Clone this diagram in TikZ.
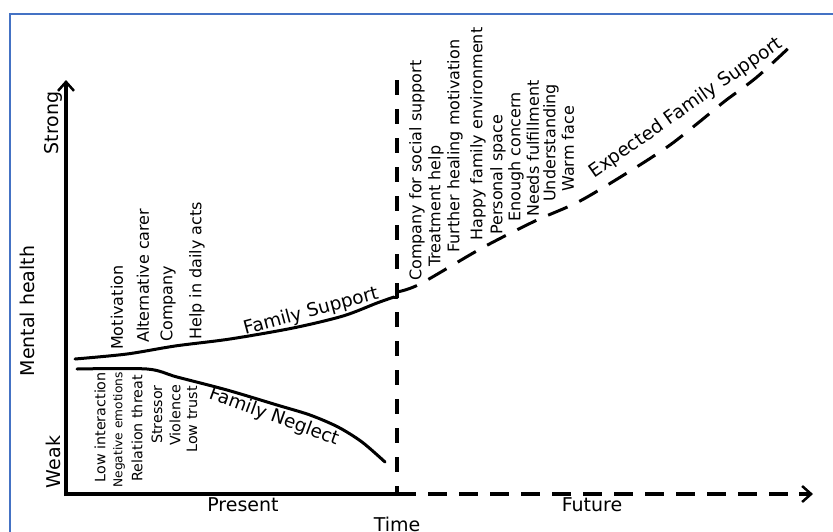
\documentclass[tikz,border=0pt]{standalone}
\usepackage{fontspec}
\setmainfont{DejaVu Sans}
\usetikzlibrary{arrows.meta}
\definecolor{frameblue}{RGB}{68,114,196}
\begin{document}
\begin{tikzpicture}[x=1pt,y=-1pt,
  axisline/.style={line width=4pt},
  curveline/.style={line width=3pt, line cap=round, line join=round},
  tipend/.style={-{Straight Barb[length=9pt,width=16pt,line width=2.5pt]}},
  vdash/.style={line width=4pt, dash pattern=on 15pt off 14pt},
  hdash/.style={line width=4pt, dash pattern=on 19pt off 12pt},
  edash/.style={line width=3pt, dash pattern=on 21pt off 13pt},
  axlabel/.style={inner sep=0pt, font=\fontsize{19}{22}\selectfont},
  curvelabel/.style={inner sep=0pt, font=\fontsize{18.5}{22}\selectfont},
  suplab/.style={inner sep=0pt, rotate=90, anchor=west, font=\fontsize{16}{19}\selectfont},
  neglab/.style={inner sep=0pt, rotate=90, anchor=east, font=\fontsize{14.3}{17}\selectfont},
  futlab/.style={inner sep=0pt, rotate=90, anchor=west, font=\fontsize{16}{19}\selectfont}
]
\useasboundingbox (0,0) rectangle (833,531);
\draw[color=frameblue, line width=2pt] (10,545) -- (10,14) -- (845,14);

% axes
\coordinate (origin) at (64,494);
\coordinate (ybottom) at (66,496);
\coordinate (ytop) at (66,80);
\coordinate (mid) at (397,494);
\coordinate (xend) at (813,494);
\coordinate (vtop) at (397,80);
\draw[axisline, tipend] (ybottom) -- (ytop);
\draw[axisline] (origin) -- (mid);
\draw[hdash] (mid) -- ([xshift=-12pt]xend);
\draw[axisline, tipend] ([xshift=-14pt]xend) -- (xend);
\draw[vdash] (vtop) -- (mid);

% axis labels
\node[axlabel, rotate=90] (strong) at (53,123) {Strong};
\node[axlabel, rotate=90] (weak) at (53,462) {Weak};
\node[axlabel, rotate=90] (mh) at (27,311) {Mental health};
\node[axlabel] (present) at (243,505) {Present};
\node[axlabel] (time) at (397,524) {Time};
\node[axlabel] (future) at (592,505) {Future};

% family support curve
\draw[curveline] plot[smooth, tension=0.5] coordinates {(75,359) (127,354) (175,346) (230,339) (293,328) (343,316) (377,303) (394,297)};
\draw[curveline] (394,297) -- (397,297) -- (397,289);
\coordinate (jstart) at (397,292);
\draw[edash] plot[smooth, tension=0.5] coordinates {(jstart) (420,284) (482,248) (535,221) (580,201) (635,168) (670,145) (698,123) (725,101) (757,77) (795,42)};

% family neglect curve
\draw[curveline] plot[smooth, tension=0.5] coordinates {(77,369) (147,369) (177,377) (227,390) (277,405) (310,415) (338,427) (362,442) (385,462)};

% curve labels
\node[curvelabel, rotate=15] (fs) at (311,312) {Family Support};
\node[curvelabel, rotate=-20] (fn) at (274,417) {Family Neglect};
\node[curvelabel, rotate=35] (efs) at (686,108) {Expected Family Support};

% support items
\node[suplab] (s1) at (117,350) {Motivation};
\node[suplab] (s2) at (143,343) {Alternative carer};
\node[suplab] (s3) at (168,342) {Company};
\node[suplab] (s4) at (197,340) {Help in daily acts};

% neglect items
\node[neglab] (n1) at (100,372) {Low interaction};
\node[neglab, font=\fontsize{12.2}{14}\selectfont] (n2) at (119,372) {Negative emotions};
\node[neglab] (n3) at (137,375) {Relation threat};
\node[neglab] (n4) at (157,385) {Stressor};
\node[neglab] (n5) at (175,385) {Violence};
\node[neglab] (n6) at (192,386) {Low trust};

% future items
\node[futlab] (f1) at (417,281) {Company for social support};
\node[futlab] (f2) at (436,267) {Treatment help};
\node[futlab] (f3) at (455,253) {Further healing motivation};
\node[futlab] (f4) at (478,241) {Happy family environment};
\node[futlab] (f5) at (498,235) {Personal space};
\node[futlab] (f6) at (516,222) {Enough concern};
\node[futlab] (f7) at (533,217) {Needs fulfillment};
\node[futlab] (f8) at (551,202) {Understanding};
\node[futlab] (f9) at (568,192) {Warm face};
\end{tikzpicture}
\end{document}
